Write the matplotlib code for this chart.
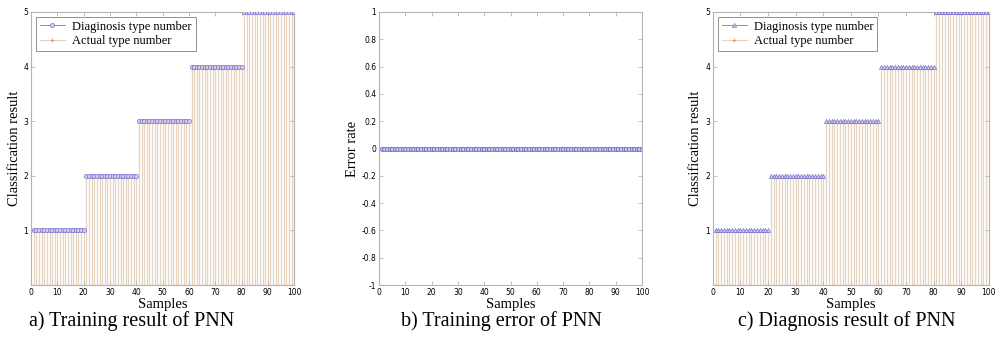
import numpy as np
import matplotlib
matplotlib.use("Agg")
import matplotlib.pyplot as plt
from matplotlib.lines import Line2D

# data: 100 samples, 20 per fault type
type_labels = [1, 2, 3, 4, 5]
samples_per_type = [20, 20, 20, 20, 20]
samples = np.arange(1, 101)
actual_type = np.repeat(type_labels, samples_per_type)
train_diag = np.repeat(type_labels, samples_per_type)   # training output
test_diag = np.repeat(type_labels, samples_per_type)    # diagnosis output
train_error = train_diag - actual_type

captions = ["a) Training result of PNN", "b) Training error of PNN",
            "c) Diagnosis result of PNN"]
caption_x = [132, 501, 847]   # pixel centres

serif = "Liberation Serif"
stem_col = "#e6d3c0"
plus_col = "#e08a55"
diag_col = "#5a5ad0"
spine_col = "#b4b4b4"

fig = plt.figure(figsize=(10.04, 3.41), dpi=100)
boxes = [[0.031, 0.164, 0.262, 0.801],
         [0.3775, 0.164, 0.262, 0.801],
         [0.710, 0.164, 0.275, 0.801]]
axs = [fig.add_axes(b) for b in boxes]


def style(ax):
    for s in ax.spines.values():
        s.set_color(spine_col)
        s.set_linewidth(0.8)
    ax.tick_params(direction="in", length=3, width=0.6, color=spine_col,
                   labelsize=5.5, top=True, right=True, pad=2)
    ax.set_xlim(0, 100)
    ax.set_xticks(np.arange(0, 101, 10))
    ax.set_xlabel("Samples", fontname=serif, fontsize=10.5, labelpad=1)


def result_panel(ax, diag, marker):
    ax.vlines(samples, 0, actual_type, color=stem_col, lw=0.9, zorder=1)
    ax.plot(samples, actual_type, "+", color=plus_col, ms=2, mew=0.4,
            zorder=2)
    ax.plot(samples, diag, ls="none", marker=marker, ms=3,
            mfc="#dccce0", mec=diag_col, mew=0.4, zorder=3)
    ax.set_ylim(0, 5)
    ax.set_yticks(type_labels)
    ax.set_ylabel("Classification result", fontname=serif, fontsize=10.5,
                  labelpad=2)
    handles = [Line2D([], [], color=diag_col, lw=0.5, marker=marker, ms=3,
                      mfc="#dccce0", mec=diag_col, mew=0.4, markevery=[1]),
               Line2D([], [], color=stem_col, lw=0.8, marker="+", ms=3,
                      mec=plus_col, mew=0.6, markevery=[1])]
    leg = ax.legend(handles, ["Diaginosis type number", "Actual type number"],
                    loc="upper left", prop={"family": serif, "size": 9},
                    fancybox=False, framealpha=1, edgecolor="#808080",
                    handlelength=2, borderaxespad=0.4, labelspacing=0.2,
                    handletextpad=0.6, borderpad=0.3)
    leg.get_frame().set_linewidth(0.6)


result_panel(axs[0], train_diag, "o")
result_panel(axs[2], test_diag, "^")

ax = axs[1]
ax.plot(samples, train_error, "o", ms=3, mfc="#c8c8e8", mec=diag_col,
        mew=0.5)
ax.set_ylim(-1, 1)
ax.set_yticks(np.round(np.arange(-1, 1.01, 0.2), 1))
ax.set_yticklabels(["-1", "-0.8", "-0.6", "-0.4", "-0.2", "0",
                    "0.2", "0.4", "0.6", "0.8", "1"])
ax.set_ylabel("Error rate", fontname=serif, fontsize=10.5, labelpad=2)

for ax, cap, cx in zip(axs, captions, caption_x):
    style(ax)
    fig.text(cx / 1004, 0.045, cap, ha="center", va="baseline",
             fontname=serif, fontsize=14.5)

fig.savefig("out.png", dpi=100)
